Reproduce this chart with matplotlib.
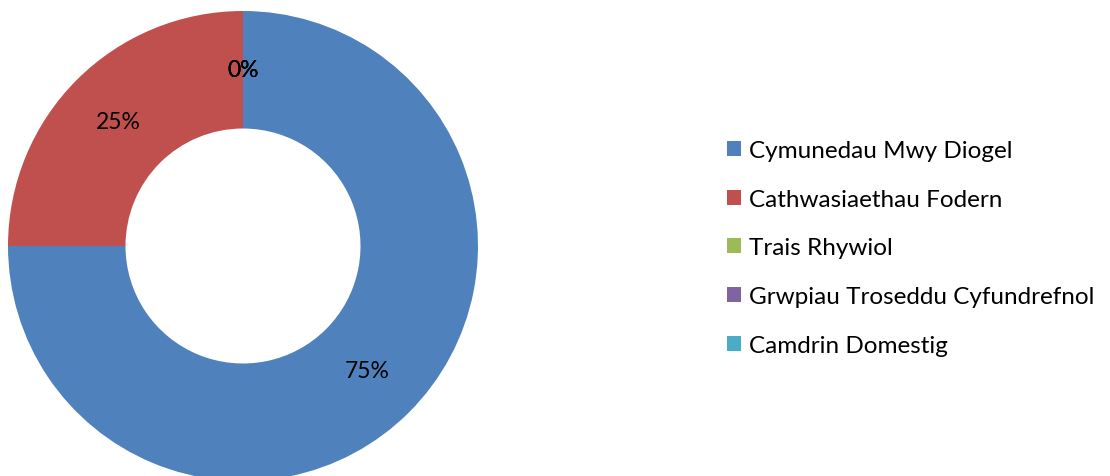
import matplotlib.pyplot as plt
from matplotlib.patches import Patch

categories = ['Cymunedau Mwy Diogel', 'Cathwasiaethau Fodern', 'Trais Rhywiol',
              'Grwpiau Troseddu Cyfundrefnol', 'Camdrin Domestig']
values = [75, 25, 0, 0, 0]
colors = ['#4F81BD', '#C0504D', '#9BBB59', '#8064A2', '#4BACC6']

plt.rcParams['font.family'] = ['Lato', 'DejaVu Sans']

fig = plt.figure(figsize=(11.1, 4.77), dpi=100)
ax = fig.add_axes([8 / 1110, -5 / 477, 470 / 1110, 470 / 477])

wedges, texts, autotexts = ax.pie(values, colors=colors, startangle=90, counterclock=False,
                                  radius=1, autopct='%1.0f%%', pctdistance=0.75,
                                  wedgeprops=dict(width=0.5, linewidth=0),
                                  textprops=dict(fontsize=16.5, color='black'))
ax.set_xlim(-1, 1)
ax.set_ylim(-1, 1)
ax.set_aspect('equal')

handles = [Patch(facecolor=c, edgecolor='none') for c in colors]
fig.legend(handles, categories, loc='upper left', bbox_to_anchor=(727 / 1110, 1 - 141 / 477),
           frameon=False, fontsize=17.5, handlelength=0.58, handleheight=0.58,
           handletextpad=0.33, labelspacing=1.14, borderpad=0, borderaxespad=0)

fig.savefig('out.png', dpi=100)
